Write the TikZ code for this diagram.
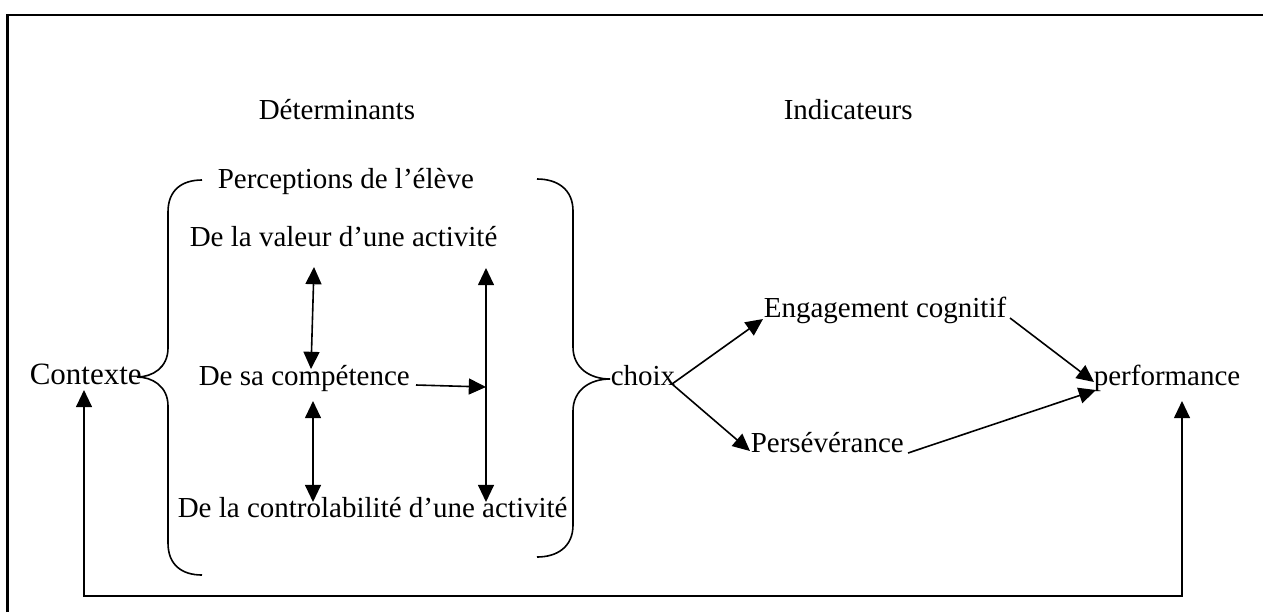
\documentclass[tikz,border=0pt]{standalone}
\usepackage{fontspec}
\setmainfont{Liberation Serif}
\usetikzlibrary{arrows.meta}
\begin{document}
\begin{tikzpicture}[x=0.5pt,y=-0.5pt,
  line width=0.8pt,
  txt/.style={inner sep=0pt,anchor=base west,font=\fontsize{14.5}{17}\selectfont},
  big/.style={txt,font=\fontsize{15.5}{18}\selectfont},
  tip/.style={Triangle[length=8.6pt,width=8pt]},
  arr/.style={-{Triangle[length=8.6pt,width=8pt]}},
  darr/.style={{Triangle[length=8.6pt,width=8pt]}-{Triangle[length=8.6pt,width=8pt]}},
  frame/.style={line width=1.1pt}]
\useasboundingbox (0,0) rectangle (1263,612);

% outer frame (open to the right and below)
\draw[frame] (7.5,612) -- (7.5,15) -- (1263,15);

% headings
\node[txt] (det) at (258,119) {Déterminants};
\node[txt] (ind) at (783,119) {Indicateurs};

% perceptions block
\node[txt] (perc) at (217,188) {Perceptions de l’élève};
\node[txt] (val) at (189,246) {De la valeur d’une activité};
\node[txt] (comp) at (198,385) {De sa compétence};
\node[txt] (ctrl) at (177,517) {De la controlabilité d’une activité};

% left and right ends of the chain
\node[big] (ctx) at (29,384) {Contexte};
\node[txt] (choix) at (610,385) {choix};
\node[txt] (eng) at (763,317) {Engagement cognitif};
\node[txt] (pers) at (750,452) {Persévérance};
\node[txt] (perf) at (1093,385) {performance};

% braces
\draw (202,180) .. controls (182,180) and (168,190) .. (168,212)
      -- (168,348) .. controls (168,368) and (152,377) .. (137,377)
      .. controls (152,377) and (168,386) .. (168,406)
      -- (168,543) .. controls (168,565) and (182,575) .. (202,575);
\draw (537,179) .. controls (557,179) and (573,189) .. (573,211)
      -- (573,347) .. controls (573,368) and (590,379) .. (610,379)
      .. controls (590,379) and (573,390) .. (573,411)
      -- (573,525) .. controls (573,547) and (557,557) .. (537,557);

% links between the perceptions
\coordinate (a1) at (314,267);
\coordinate (a2) at (311,369);
\coordinate (b1) at (313,401);
\coordinate (b2) at (313,502);
\coordinate (c1) at (486,268);
\coordinate (c2) at (486,502);
\coordinate (h1) at (416,385);
\coordinate (h2) at (486,387);
\draw[darr] (a1) -- (a2);
\draw[darr] (b1) -- (b2);
\draw[darr] (c1) -- (c2);
\draw[arr] (h1) -- (h2);

% choice towards the indicators
\coordinate (ch) at (672,384);
\coordinate (engin) at (763,319);
\coordinate (persin) at (750,451);
\coordinate (engout) at (1010,318);
\coordinate (persout) at (908,453);
\coordinate (perfa) at (1094,382);
\coordinate (perfb) at (1096,390);
\draw[arr] (ch) -- (engin);
\draw[arr] (ch) -- (persin);
\draw[arr] (engout) -- (perfa);
\draw[arr] (persout) -- (perfb);

% feedback loop from performance back to context
\coordinate (fbr) at (1182,401);
\coordinate (fbl) at (84,390);
\draw[darr] (fbr) -- (1182,596) -- (84,596) -- (fbl);
\end{tikzpicture}
\end{document}
